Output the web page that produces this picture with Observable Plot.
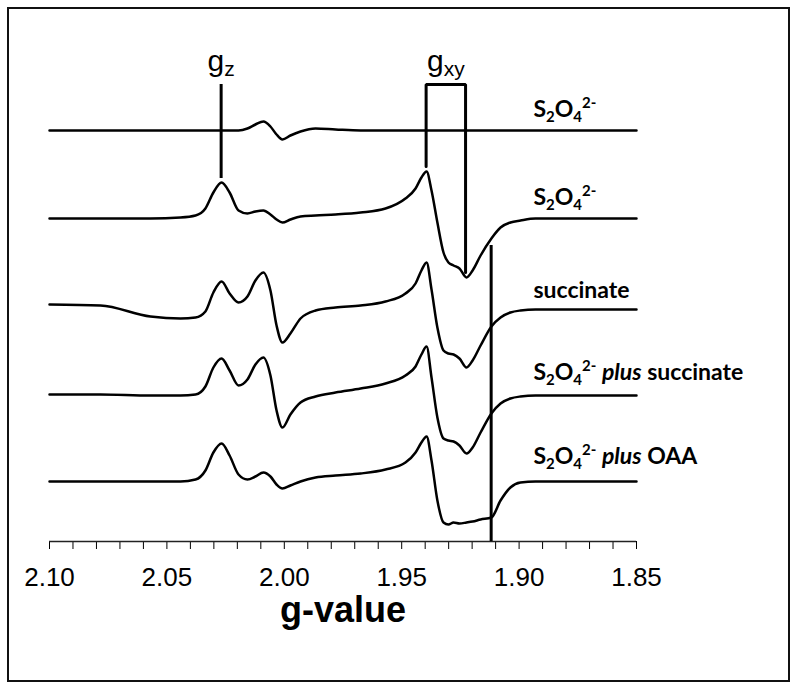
<!DOCTYPE html>
<html>
<head>
<meta charset="utf-8">
<script src="https://cdn.jsdelivr.net/npm/d3@7"></script>
<script src="https://cdn.jsdelivr.net/npm/@observablehq/plot@0.6"></script>
<style>
  html, body { margin: 0; padding: 0; background: white; }
  #wrap { position: relative; width: 800px; height: 692px; }
  #frame { position: absolute; left: 7px; top: 7px; width: 783px; height: 675px; box-sizing: border-box; border: 2.5px solid #111; pointer-events: none; }
</style>
</head>
<body>
<div id="wrap"><div id="chart"></div><div id="frame"></div></div>
<script>
// g-value grid shared by all spectra
const gGrid = [2.1000, 2.0783, 2.0570, 2.0442, 2.0378, 2.0336, 2.0302, 2.0267, 2.0233, 2.0195,
  2.0157, 2.0123, 2.0089, 2.0059, 2.0033, 2.0008, 1.9974, 1.9931, 1.9867, 1.9782,
  1.9675, 1.9569, 1.9484, 1.9441, 1.9416, 1.9394, 1.9373, 1.9348, 1.9322, 1.9301,
  1.9279, 1.9254, 1.9224, 1.9198, 1.9164, 1.9118, 1.9079, 1.9037, 1.8994, 1.8930,
  1.8824, 1.8653, 1.8500];

// vertical stacking offsets of the spectra (arbitrary units)
const offsets = [411, 323, 232, 146, 60];

// EPR signals (derivative intensity, arbitrary units)
const specDithionite1 = [0,0,0,0,0,0,0,0,0,0, 2,6,9,4,-4,-9,-5,-1,2,1, 0,0,0,0,0,0,0,0,0,0, 0,0,0,0,0,0,0,0,0,0, 0,0,0];
const specDithionite2 = [0,0,0,1,3,10,26,36,26,8, 5,7,8,4,-1,-4,-1,2,3,4, 6,10,20,30,41,47,28,-4,-34,-44, -47,-50,-59,-52,-37,-20,-9,-4,-2,0, 0,0,0];
const specSuccinate = [5,4,-7,-9,-8,-2,17,28,16,7, 13,29,37,19,-16,-33,-24,-9,-1,2, 4,8,16,26,39,47,20,-18,-41,-44, -45,-49,-58,-51,-36,-17,-8,-3,-1,0, 0,0,0];
const specDithSucc = [1,1,0,0,1,9,28,37,25,10, 16,31,38,20,-15,-32,-19,-7,-1,3, 7,12,20,29,41,49,18,-22,-43,-45, -46,-50,-58,-52,-37,-18,-8,-3,-1,0, 0,0,0];
const specDithOAA = [0,0,0,0,2,11,29,38,26,7, 2,5,9,5,-3,-7,-4,0,4,6, 8,12,19,29,39,45,21,-19,-41,-43, -41,-42,-41,-40,-38,-36,-19,-6,-1,0, 0,0,0];

const sampleLabels = ["S2O4 2-", "S2O4 2-", "succinate", "S2O4 2- plus succinate", "S2O4 2- plus OAA"];
const labelHeights = [425, 337, 244, 162, 78];
const labelG = 1.8939;

// x axis ticks
const majorTicks = [2.10, 2.05, 2.00, 1.95, 1.90, 1.85];
const minorStep = 0.01;

// g-tensor markers
const gzMark = {g: 2.0269, top: 457, bottom: 363};
const gxyBracket = [
  {g: 1.9396, h: 375}, {g: 1.9396, h: 457}, {g: 1.9228, h: 457}, {g: 1.9228, h: 269}
];
const gLabels = [{text: "gz", g: 2.0269, h: 471}, {text: "gxy", g: 1.9312, h: 471}];
const refLine = {g: 1.9119, top: 296, bottom: 0};

const spectra = [specDithionite1, specDithionite2, specSuccinate, specDithSucc, specDithOAA];
const traceData = spectra.flatMap((s, i) => s.map((v, j) => ({series: i, g: gGrid[j], h: offsets[i] + v})));
const labelData = sampleLabels.map((t, i) => ({text: t, g: labelG, h: labelHeights[i]}));

const allTicks = d3.range(0, 26).map(i => +(2.10 - i * minorStep).toFixed(2));
const isMajor = d => majorTicks.some(m => Math.abs(m - d) < 1e-6);

const chart = Plot.plot({
  width: 800,
  height: 692,
  marginLeft: 49,
  marginRight: 164,
  marginTop: 0,
  marginBottom: 151,
  style: {fontFamily: "'Liberation Sans', Arial, sans-serif", fontSize: "26px", color: "black", background: "white"},
  x: {domain: [2.10, 1.85], ticks: allTicks, tickFormat: d => isMajor(d) ? d.toFixed(2) : "", tickSize: 8, tickPadding: 18, label: null},
  y: {domain: [0, 541], axis: null},
  marks: [
    Plot.ruleY([0], {stroke: "#222", strokeWidth: 1.5}),
    Plot.line(traceData, {x: "g", y: "h", z: "series", curve: "monotone-x", stroke: "black", strokeWidth: 2.5}),
    Plot.ruleX([gzMark], {x: "g", y1: "bottom", y2: "top", stroke: "black", strokeWidth: 3}),
    Plot.line(gxyBracket, {x: "g", y: "h", stroke: "black", strokeWidth: 3, strokeLinejoin: "miter"}),
    Plot.ruleX([refLine], {x: "g", y1: "bottom", y2: "top", stroke: "black", strokeWidth: 3}),
    Plot.text(gLabels, {x: "g", y: "h", text: "text", textAnchor: "middle", lineAnchor: "bottom", fontSize: 30, fontFamily: "'Liberation Sans', Arial, sans-serif"}),
    Plot.text(labelData, {x: "g", y: "h", text: "text", textAnchor: "start", lineAnchor: "bottom", fontSize: 23, fontWeight: "bold", fontFamily: "Lato, 'Open Sans', sans-serif"}),
    Plot.text(["g-value"], {text: d => d, frameAnchor: "bottom", lineAnchor: "bottom", dy: 80, fontSize: 36, fontWeight: "bold", fontFamily: "'Liberation Sans', Arial, sans-serif"})
  ]
});

// rich text: subscripts, superscripts, italics
function partsFor(str) {
  if (str === "gz") return [{t: "g"}, {t: "z", size: 21, shift: 5}];
  if (str === "gxy") return [{t: "g"}, {t: "xy", size: 21, shift: 5}];
  if (str.startsWith("S2O4 2-")) {
    const parts = [{t: "S"}, {t: "2", size: 15, shift: 5}, {t: "O"}, {t: "4", size: 15, shift: 5}, {t: "2-", size: 15, shift: -9}];
    const rest = str.slice(7);
    const m = rest.match(/^ (plus) (.*)$/);
    if (m) {
      parts.push({t: " "}, {t: m[1], italic: true}, {t: " " + m[2]});
    }
    return parts;
  }
  return null;
}
chart.querySelectorAll("text").forEach(t => {
  const parts = partsFor(t.textContent);
  if (!parts) return;
  t.textContent = "";
  let cur = 0;
  for (const p of parts) {
    const ts = document.createElementNS("http://www.w3.org/2000/svg", "tspan");
    const target = p.shift || 0;
    if (target !== cur) ts.setAttribute("dy", target - cur);
    cur = target;
    if (p.size) ts.setAttribute("font-size", p.size);
    if (p.italic) ts.setAttribute("font-style", "italic");
    ts.setAttribute("xml:space", "preserve");
    ts.style.whiteSpace = "pre";
    ts.textContent = p.t;
    t.appendChild(ts);
  }
});

document.getElementById("chart").appendChild(chart);
</script>
</body>
</html>
